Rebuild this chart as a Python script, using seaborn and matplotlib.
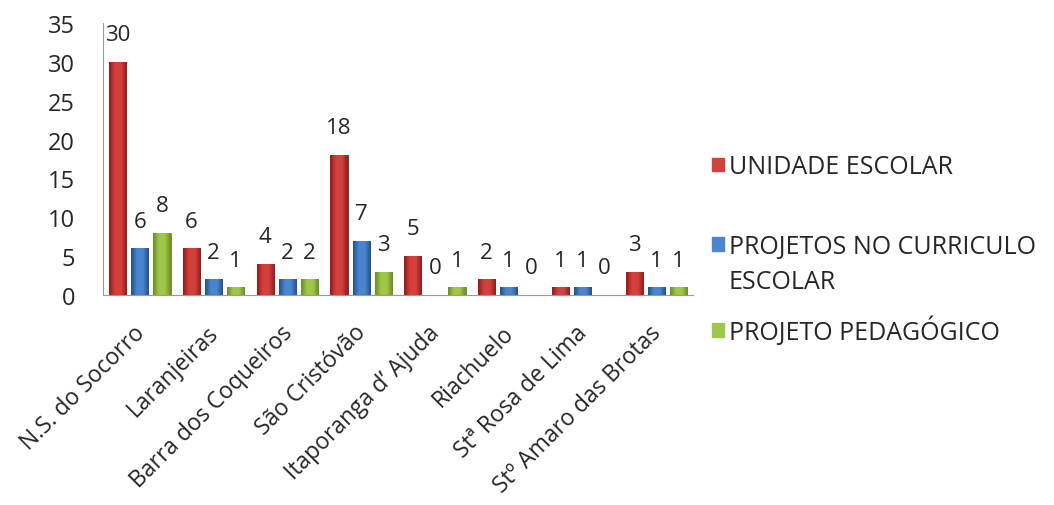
import numpy as np
import pandas as pd
import matplotlib
matplotlib.use("Agg")
import matplotlib.pyplot as plt
import matplotlib.transforms as mtransforms
import seaborn as sns
from matplotlib.patches import Patch
from matplotlib.colors import LinearSegmentedColormap

# Municipalities on the x axis
municipios = ["N.S. do Socorro", "Laranjeiras", "Barra dos Coqueiros", "São Cristóvão",
              "Itaporanga d\u2019 Ajuda", "Riachuelo", "St\u00aa Rosa de Lima",
              "St\u00ba Amaro das Brotas"]

# Series
series = ["UNIDADE ESCOLAR", "PROJETOS NO CURRICULO ESCOLAR", "PROJETO PEDAGÓGICO"]
unidade_escolar = [30, 6, 4, 18, 5, 2, 1, 3]
projetos_curriculo = [6, 2, 2, 7, 0, 1, 1, 1]
projeto_pedagogico = [8, 1, 2, 3, 1, 0, 0, 1]

y_ticks = [0, 5, 10, 15, 20, 25, 30, 35]

# (dark edge, light centre) shades for each series
shades = {
    series[0]: ("#8E1C1C", "#D4403C"),
    series[1]: ("#20508A", "#4A86D0"),
    series[2]: ("#698C26", "#9FC748"),
}

df = pd.DataFrame({
    "municipio": municipios * 3,
    "serie": [series[0]] * 8 + [series[1]] * 8 + [series[2]] * 8,
    "valor": unidade_escolar + projetos_curriculo + projeto_pedagogico,
})

TXT = "#262626"

sns.set_style("white")
plt.rcParams["font.family"] = ["Open Sans", "DejaVu Sans"]

fig = plt.figure(figsize=(10.54, 5.06), dpi=100)
ax = fig.add_axes([0.0977, 0.415, 0.56, 0.5375])

palette = {s: shades[s][0] for s in series}
sns.barplot(data=df, x="municipio", y="valor", hue="serie", order=municipios,
            hue_order=series, palette=palette, width=0.9, gap=0.22,
            saturation=1, legend=False, ax=ax)

# shaded fill inside each bar for a rounded look
for container, s in zip(ax.containers, series):
    dark, light = shades[s]
    cmap = LinearSegmentedColormap.from_list(s, [dark, light, light, dark])
    grad = np.linspace(0, 1, 64).reshape(1, -1)
    for bar, val in zip(container, container.datavalues):
        bar.set_edgecolor(dark)
        bar.set_linewidth(0.6)
        if val <= 0:
            continue
        x0, w, h = bar.get_x(), bar.get_width(), bar.get_height()
        im = ax.imshow(grad, cmap=cmap, aspect="auto", interpolation="bicubic",
                       extent=(x0, x0 + w, 0, h), zorder=bar.get_zorder() + 0.1)
        im.set_clip_path(bar)
    ax.bar_label(container, labels=[f"{v:g}" for v in container.datavalues],
                 padding=12, fontsize=16, color=TXT)

ax.set_xlim(-0.5, len(municipios) - 0.5)
ax.set_ylim(0, 35)
ax.set_yticks(y_ticks)
ax.set_yticklabels([str(t) for t in y_ticks], fontsize=17, color=TXT)
ax.tick_params(axis="y", length=0, pad=20)
ax.tick_params(axis="x", length=0, pad=8)
ax.set_xticks(range(len(municipios)))
ax.set_xticklabels(municipios, rotation=45, ha="right", rotation_mode="anchor",
                   fontsize=16.5, color=TXT)
# nudge the slanted category names a little down and to the left
shift = mtransforms.ScaledTranslation(-0.07, -0.14, fig.dpi_scale_trans)
for lbl in ax.get_xticklabels():
    lbl.set_transform(lbl.get_transform() + shift)
ax.set_xlabel("")
ax.set_ylabel("")
for side in ["top", "right"]:
    ax.spines[side].set_visible(False)
for side in ["left", "bottom"]:
    ax.spines[side].set_color("#9a9a9a")
    ax.spines[side].set_linewidth(0.8)

# Legend entries on the right
def legend_entry(labels, colors, y):
    handles = [Patch(facecolor=c, edgecolor=c) if c else Patch(alpha=0) for c in colors]
    leg = fig.legend(handles=handles, labels=labels, loc="center left",
                     bbox_to_anchor=(0.664, y), frameon=False, fontsize=18,
                     handlelength=0.45, handleheight=0.45, handletextpad=0.2,
                     labelspacing=0.42, borderpad=0, labelcolor=TXT)
    return leg

legend_entry([series[0]], [shades[series[0]][1]], 1 - 168 / 506)
legend_entry(["PROJETOS NO CURRICULO", "ESCOLAR"], [shades[series[1]][1], None],
             1 - 265 / 506)
legend_entry([series[2]], [shades[series[2]][1]], 1 - 331 / 506)

fig.savefig("out.png", dpi=100, facecolor="white")
